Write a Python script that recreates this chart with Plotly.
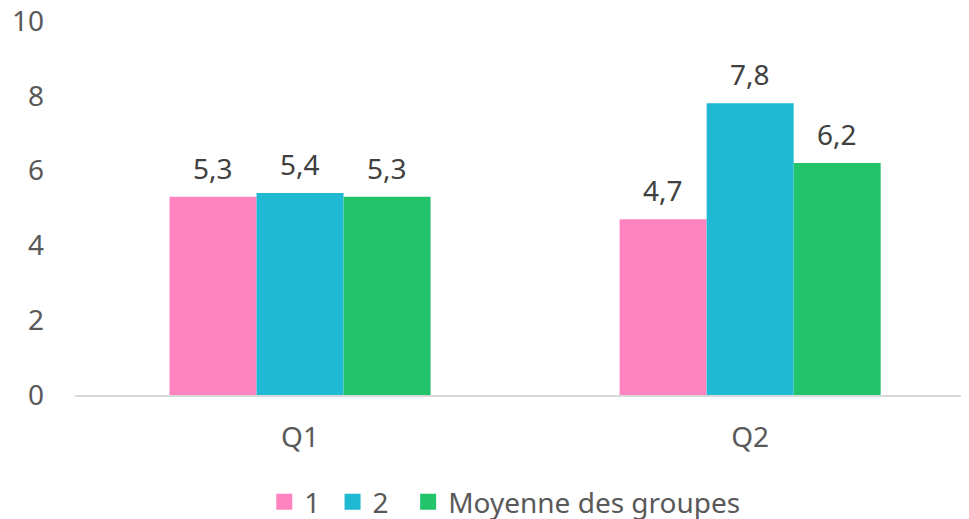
import plotly.graph_objects as go

categories = ["Q1", "Q2"]
series_names = ["1", "2", "Moyenne des groupes"]
values_1 = [5.3, 4.7]
values_2 = [5.4, 7.8]
values_moy = [5.3, 6.2]
colors = ["#FF83BE", "#1FB9D4", "#22C46B"]

bargap = 0.42
fig = go.Figure()
all_vals = [values_1, values_2, values_moy]
bar_w = (1 - bargap) / len(all_vals)
pads = ["\u00a0", "\u00a0\u00a0", ""]
for i, (name, vals, col) in enumerate(zip(series_names, all_vals, colors)):
    fig.add_trace(go.Bar(
        x=categories, y=vals, name=name, marker_color=col,
        marker_line_width=0, showlegend=False,
    ))
    # legend entry with a bigger square (a bit of padding after short names)
    fig.add_trace(go.Scatter(
        x=[None], y=[None], mode="markers", name=name + pads[i],
        marker=dict(symbol="square", size=18, color=col),
    ))
    # value labels
    for j, v in enumerate(vals):
        fig.add_annotation(
            x=j + (i - 1) * bar_w, y=v, xref="x", yref="y",
            text=f"{v:.1f}".replace(".", ","), showarrow=False,
            yanchor="bottom", yshift=8,
            font=dict(size=28, color="#404040"),
        )

fig.update_layout(
    width=969, height=519,
    margin=dict(l=67, r=0, t=13, b=131),
    paper_bgcolor="white", plot_bgcolor="white",
    font=dict(family="Noto Sans", size=28, color="#595959"),
    barmode="group", bargap=bargap, bargroupgap=0,
    showlegend=True,
    legend=dict(orientation="h", x=0.477, xanchor="center", y=-0.22, yanchor="top",
                font=dict(size=28, color="#595959"), itemwidth=30, traceorder="normal"),
    xaxis=dict(range=[-0.5, 1.504], showline=True, linecolor="#D9D9D9", linewidth=2,
               ticks="", showgrid=False, automargin=False, ticklabelstandoff=16),
    yaxis=dict(range=[0, 10], dtick=2, showgrid=False, zeroline=False,
               showline=False, ticks="", ticklabelstandoff=30, automargin=False,
               ticklabeloverflow="allow"),
)

fig.write_html("out.html")
